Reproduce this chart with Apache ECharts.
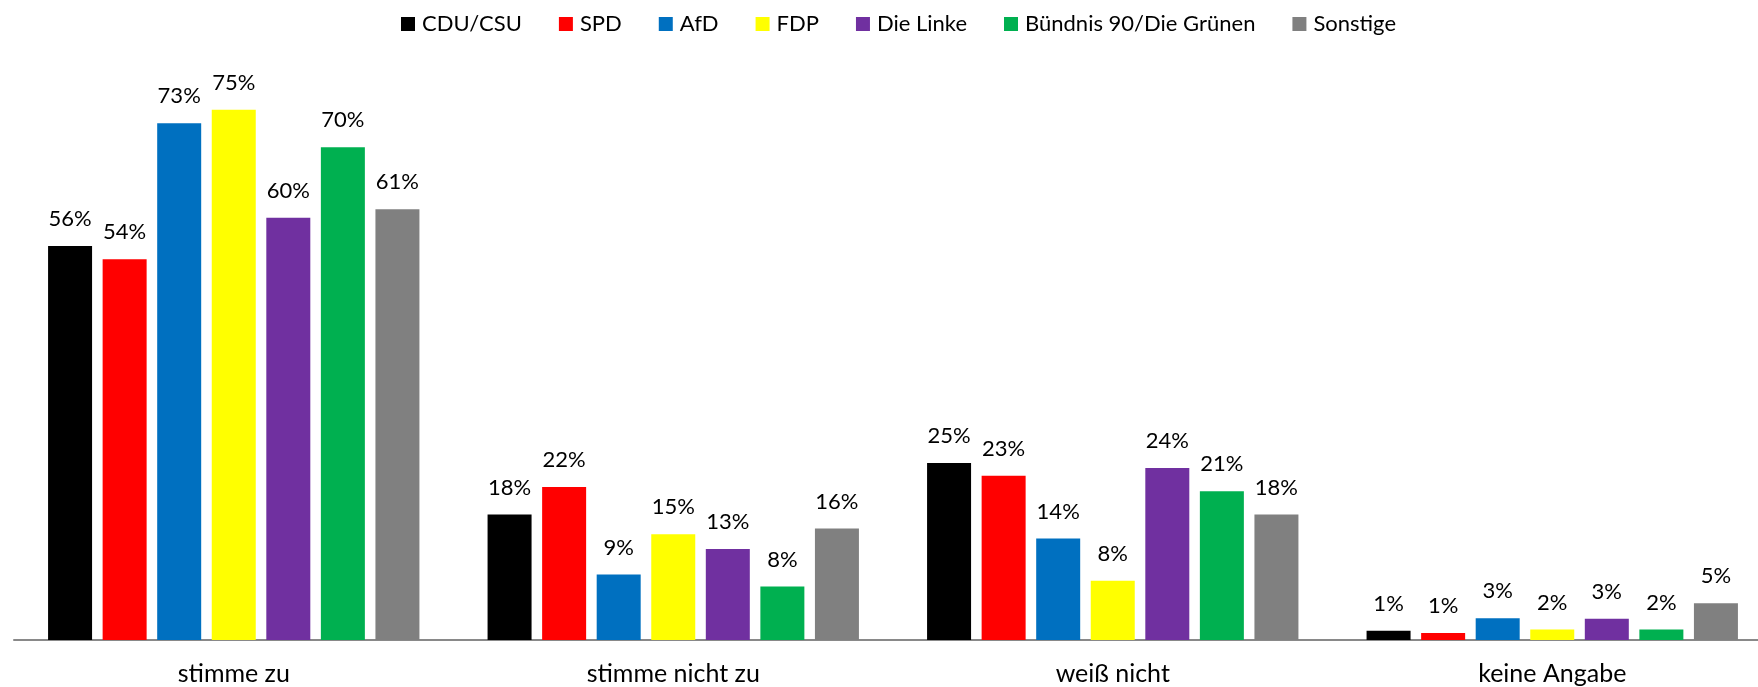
<!DOCTYPE html>
<html>
<head>
<meta charset="utf-8">
<script src="https://cdn.jsdelivr.net/npm/echarts@6/dist/echarts.min.js"></script>
<style>
  html, body { margin: 0; padding: 0; background: #fff; }
  #chart { width: 1758px; height: 687px; }
</style>
</head>
<body>
<div id="chart"></div>
<script>
// antwort-kategorien
const categories = ["stimme zu", "stimme nicht zu", "weiß nicht", "keine Angabe"];

// werte in prozent, je partei (aus den balkenhoehen gelesen)
const cduCsu   = [55.9, 17.8, 25.1, 1.3];
const spd      = [54.0, 21.7, 23.3, 1.0];
const afd      = [73.3, 9.3, 14.4, 3.1];
const fdp      = [75.2, 15.0, 8.4, 1.5];
const linke    = [59.9, 12.9, 24.4, 3.0];
const gruene   = [69.9, 7.6, 21.1, 1.5];
const sonstige = [61.1, 15.8, 17.8, 5.2];

const parties = ["CDU/CSU", "SPD", "AfD", "FDP", "Die Linke", "Bündnis 90/Die Grünen", "Sonstige"];
const values = [cduCsu, spd, afd, fdp, linke, gruene, sonstige];
const colors = ["#000000", "#FF0000", "#0070C0", "#FFFF00", "#7030A0", "#00B050", "#808080"];

const font = "Lato";

const chart = echarts.init(document.getElementById("chart"), null, { renderer: "canvas" });

const series = parties.map((name, i) => ({
  name: name,
  type: "bar",
  data: values[i],
  barWidth: 44,
  barGap: "24%",
  itemStyle: { color: colors[i] },
  label: {
    show: true,
    position: "top",
    distance: 16,
    color: "#000",
    fontFamily: font,
    fontSize: 22,
    formatter: (p) => Math.round(p.value) + "%",
  },
}));

chart.setOption({
  animation: false,
  legend: {
    top: 8,
    left: 396,
    icon: "rect",
    itemWidth: 14,
    itemHeight: 14,
    itemGap: 37,
    textStyle: { fontFamily: font, fontSize: 22, color: "#000", padding: [0, 0, 0, 2] },
    data: parties,
  },
  grid: {
    left: 14,
    width: 1758,
    top: 76,
    bottom: 47,
    outerBoundsMode: "none",
  },
  xAxis: {
    type: "category",
    data: categories,
    axisLine: { lineStyle: { color: "#898989", width: 2 } },
    axisTick: { show: false },
    axisLabel: { color: "#000", fontFamily: font, fontSize: 25, margin: 21 },
  },
  yAxis: {
    type: "value",
    min: 0,
    max: 80,
    show: false,
    splitLine: { show: false },
  },
  series: series,
});
</script>
</body>
</html>
